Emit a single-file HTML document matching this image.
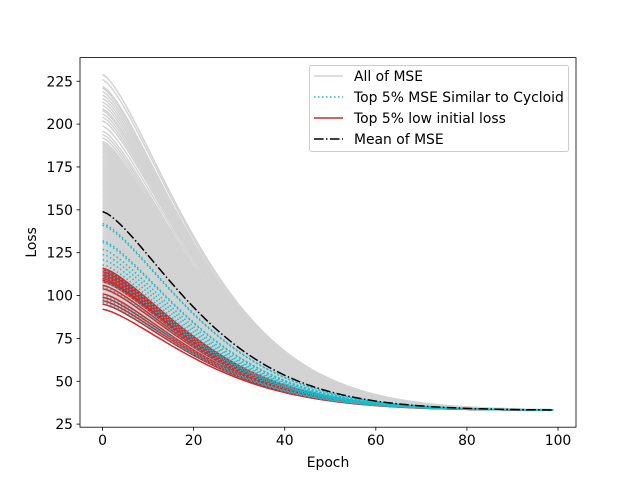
<!DOCTYPE html>
<html><head><meta charset="utf-8"><style>
body{margin:0;background:#fff}
svg text{font-family:"DejaVu Sans","Liberation Sans",sans-serif;font-size:13.9px;fill:#000}
</style></head><body>
<svg id="chart" width="640" height="480" xmlns="http://www.w3.org/2000/svg">
<g id="plot"></g>
</svg>
<script>
const epochs = Array.from({length:100},(_, i)=>i);
const grayStarts = [229,226,222,221,219,217,215,213,211,209,208,206,204,202,199,196,194,192,190,189,188,187,186,185,184,183,182,181,180,179,178,177,176,175,174,173,172,171,170,169,168,167,166,165,164,163,162,161,160,159,158,157,156,155,154,153,152,151,150,149,148,147,146,145,144,143,142,141,140,139,138,137,136,135,134,133,132,131,130,129,128,127,126,125,124,123,122,121,120,119,118,117,116,115,114,113,112,111,110,109,108,107,106,105,104,103,102,101,100,99,98,97,96,95];
const cyanStarts = [142,141,132,131,127,124,121,118,115,113,111,108,105,100,98,96];
const redStarts = [116,115,114,113,112,111,110,109,108,106,104,101,99,97,95,92];
const meanStart = 149;
const finalLoss = 33;
const decayWidth = 27;
const decayPower = 1.4;
const xTicks = [0,20,40,60,80,100];
const yTicks = [25,50,75,100,125,150,175,200,225];

const L=80,R=576,T=57.6,B=427.2;
const xMin=-4.95,xMax=103.95,yMin=23.2,yMax=238.8;
const sx=v=>L+(v-xMin)/(xMax-xMin)*(R-L);
const sy=v=>B-(v-yMin)/(yMax-yMin)*(B-T);
const NS="http://www.w3.org/2000/svg";
const svg=document.getElementById('chart');
const plot=document.getElementById('plot');
function mk(tag,attrs,parent){const e=document.createElementNS(NS,tag);for(const k in attrs)e.setAttribute(k,attrs[k]);(parent||svg).appendChild(e);return e;}
function curve(s0){return epochs.map(t=>finalLoss+(s0-finalLoss)*Math.exp(-Math.pow(t/decayWidth,decayPower)));}
function pathD(vals){return vals.map((v,i)=>(i?'L':'M')+sx(epochs[i]).toFixed(2)+','+sy(v).toFixed(2)).join('');}
function draw(vals,stroke,w,dash,name){
  const p=mk('path',{d:pathD(vals),fill:'none',stroke:stroke,'stroke-width':w},plot);
  if(dash)p.setAttribute('stroke-dasharray',dash);
  
  
}
grayStarts.forEach(s=>draw(curve(s),'#d3d3d3',1.5,null,'mse-line'));
redStarts.forEach(s=>draw(curve(s),'#d62728',1.5,null,'low-loss-line'));
cyanStarts.forEach(s=>draw(curve(s),'#17becf',1.5,'1.5,2.5','cycloid-line'));
draw(curve(meanStart),'#000',1.5,'9.6,2.4,1.5,2.4','mean-line');

const fr=mk('rect',{x:L,y:T,width:R-L,height:B-T,fill:'none',stroke:'#000','stroke-width':0.8});


xTicks.forEach(v=>{
  mk('line',{x1:sx(v),x2:sx(v),y1:B,y2:B+3.5,stroke:'#000','stroke-width':0.8});
  const t=mk('text',{x:sx(v),y:B+18,'text-anchor':'middle'});t.textContent=v;
  
  
});
yTicks.forEach(v=>{
  mk('line',{x1:L-3.5,x2:L,y1:sy(v),y2:sy(v),stroke:'#000','stroke-width':0.8});
  const t=mk('text',{x:L-7,y:sy(v)+5,'text-anchor':'end'});t.textContent=v;
  
  
});
const xl=mk('text',{x:(L+R)/2,y:467,'text-anchor':'middle'});xl.textContent='Epoch';


const yl=mk('text',{x:36,y:(T+B)/2,'text-anchor':'middle',transform:`rotate(-90 36 ${(T+B)/2})`});yl.textContent='Loss';



const lg=mk('g',{});


mk('rect',{x:309.5,y:65.5,width:259,height:86,rx:2,fill:'#fff','fill-opacity':0.8,stroke:'#ccc','stroke-width':1},lg);
const entries=[['All of MSE','#d3d3d3',null],['Top 5% MSE Similar to Cycloid','#17becf','1.5,2.5'],['Top 5% low initial loss','#d62728',null],['Mean of MSE','#000','9.6,2.4,1.5,2.4']];
entries.forEach((e,i)=>{
  const y=76+i*21;
  const g=mk('g',{},lg);
  
  
  const l=mk('line',{x1:314,x2:343,y1:y,y2:y,stroke:e[1],'stroke-width':1.5},g);
  if(e[2])l.setAttribute('stroke-dasharray',e[2]);
  const t=mk('text',{x:354,y:y+5},g);t.textContent=e[0];
});
</script>
</body></html>
